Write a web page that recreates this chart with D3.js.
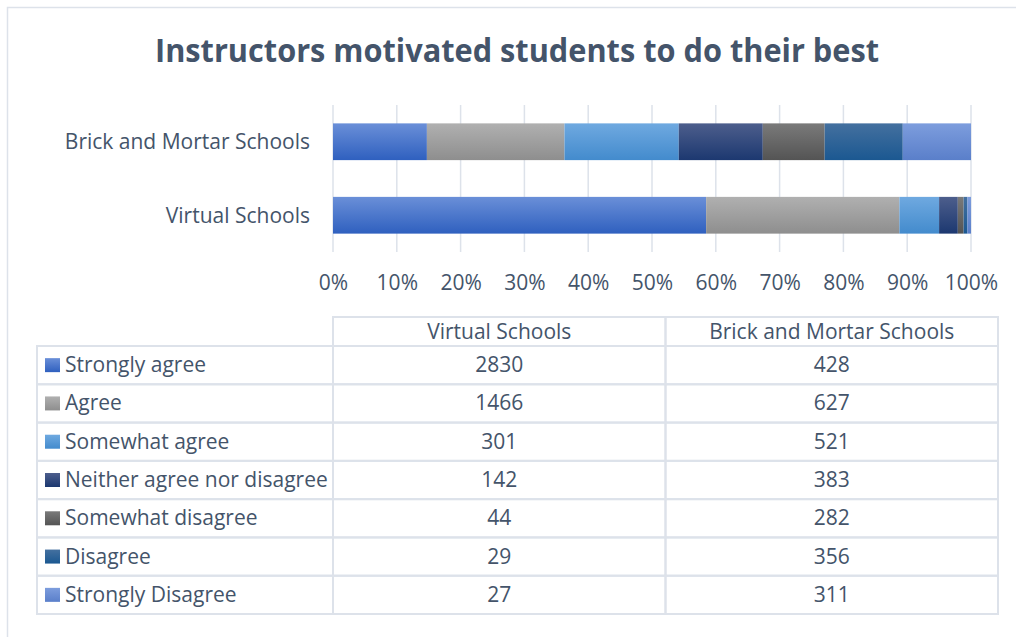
<!DOCTYPE html>
<html>
<head>
<meta charset="utf-8">
<script src="https://cdn.jsdelivr.net/npm/d3@7"></script>
<style>
  body { margin: 0; background: #ffffff; }
  svg { display: block; }
</style>
</head>
<body>
<div id="chart"></div>
<script>
// data
var categories = ["Brick and Mortar Schools", "Virtual Schools"];
var columns = ["Virtual Schools", "Brick and Mortar Schools"];
var responses = ["Strongly agree", "Agree", "Somewhat agree", "Neither agree nor disagree",
                 "Somewhat disagree", "Disagree", "Strongly Disagree"];
var virtualCounts = [2830, 1466, 301, 142, 44, 29, 27];
var brickCounts = [428, 627, 521, 383, 282, 356, 311];
var tickValues = [0, 0.1, 0.2, 0.3, 0.4, 0.5, 0.6, 0.7, 0.8, 0.9, 1];

// gradient stops per series (top, bottom)
var seriesColors = [
    ["#6a8fd8", "#2f60bf"],
    ["#b0b0b0", "#8e8e8e"],
    ["#6fa9e0", "#438bcd"],
    ["#4d5e8c", "#1c3870"],
    ["#7a7a7a", "#545454"],
    ["#44709f", "#1b5891"],
    ["#7d9ddd", "#5a7fca"]
];

var textColor = "#44546a";
var lineColor = "#dde2ea";
var font = "'Open Sans', 'Noto Sans', sans-serif";

var W = 1016, H = 637;
var svg = d3.select("#chart").append("svg").attr("width", W).attr("height", H);

var defs = svg.append("defs");
seriesColors.forEach(function (c, i) {
    var g = defs.append("linearGradient").attr("id", "grad" + i)
        .attr("x1", 0).attr("y1", 0).attr("x2", 0).attr("y2", 1);
    g.append("stop").attr("offset", "0%").attr("stop-color", c[0]);
    g.append("stop").attr("offset", "100%").attr("stop-color", c[1]);
});

// chart frame (only top and left edges show in the crop)
svg.append("path")
    .attr("d", "M7.5," + H + "V7.5H" + W)
    .attr("fill", "none").attr("stroke", lineColor).attr("stroke-width", 1.5);

// title - squeezed a bit, bold Open Sans runs wider than the original
svg.append("text")
    .attr("x", 517).attr("y", 62)
    .attr("text-anchor", "middle")
    .attr("font-family", font).attr("font-weight", "bold")
    .attr("font-size", 33)
    .attr("fill", textColor)
    .attr("textLength", 724).attr("lengthAdjust", "spacingAndGlyphs")
    .text("Instructors motivated students to do their best");

// --- bar area ---
var x = d3.scaleLinear().domain([0, 1]).range([333, 971]);
var y = d3.scaleBand().domain(categories).range([105, 252]).paddingInner(0.5).paddingOuter(0.25);

var countsByCat = {
    "Virtual Schools": virtualCounts,
    "Brick and Mortar Schools": brickCounts
};
var rows = categories.map(function (c) {
    var obj = { cat: c };
    var total = d3.sum(countsByCat[c]);
    responses.forEach(function (r, i) { obj[r] = countsByCat[c][i] / total; });
    return obj;
});
var stacked = d3.stack().keys(responses)(rows);

// gridlines
svg.append("g").selectAll("line").data(tickValues).enter().append("line")
    .attr("x1", d => x(d)).attr("x2", d => x(d))
    .attr("y1", 105).attr("y2", 252)
    .attr("stroke", lineColor).attr("stroke-width", 1.5);

svg.append("g").selectAll("g").data(stacked).enter().append("g")
    .attr("fill", (d, i) => "url(#grad" + i + ")")
    .selectAll("rect").data(d => d).enter().append("rect")
    .attr("x", d => x(d[0]))
    .attr("width", d => x(d[1]) - x(d[0]))
    .attr("y", d => y(d.data.cat))
    .attr("height", y.bandwidth());

var labelSize = 21;

// x axis labels
var xAxis = svg.append("g")
    .attr("transform", "translate(0,290)")
    .call(d3.axisBottom(x).tickValues(tickValues).tickFormat(d3.format(".0%")).tickSize(0).tickPadding(0));
xAxis.select(".domain").remove();
xAxis.selectAll("text")
    .attr("font-family", font).attr("font-size", labelSize)
    .attr("fill", textColor).attr("dy", 0).attr("y", 0);

// category labels
var yAxis = svg.append("g")
    .attr("transform", "translate(310,0)")
    .call(d3.axisLeft(y).tickSize(0).tickPadding(0));
yAxis.select(".domain").remove();
yAxis.selectAll("text")
    .attr("font-family", font).attr("font-size", labelSize)
    .attr("fill", textColor).attr("x", 0).attr("dy", 7.5);

// --- data table ---
var tableLeft = 37, tableRight = 998, headerTop = 317;
var colX = d3.scaleBand().domain(columns).range([333, tableRight]);
var rowY = d3.scaleBand().domain(responses).range([346, 614]);

var table = svg.append("g").attr("fill", "none").attr("stroke", lineColor).attr("stroke-width", 2);
// header cells (only the value columns)
columns.forEach(function (c) {
    table.append("rect")
        .attr("x", colX(c)).attr("y", headerTop)
        .attr("width", colX.bandwidth()).attr("height", rowY(responses[0]) - headerTop);
});
// body rows
responses.forEach(function (r) {
    table.append("rect")
        .attr("x", tableLeft).attr("y", rowY(r))
        .attr("width", 333 - tableLeft).attr("height", rowY.bandwidth());
    columns.forEach(function (c) {
        table.append("rect")
            .attr("x", colX(c)).attr("y", rowY(r))
            .attr("width", colX.bandwidth()).attr("height", rowY.bandwidth());
    });
});

var texts = svg.append("g").attr("font-family", font).attr("font-size", labelSize).attr("fill", textColor);
columns.forEach(function (c) {
    texts.append("text")
        .attr("x", colX(c) + colX.bandwidth() / 2)
        .attr("y", 339)
        .attr("text-anchor", "middle")
        .text(c);
});
responses.forEach(function (r, i) {
    var cy = rowY(r) + rowY.bandwidth() / 2;
    svg.append("rect")
        .attr("x", 45).attr("y", cy - 7)
        .attr("width", 15).attr("height", 14)
        .attr("fill", "url(#grad" + i + ")");
    texts.append("text")
        .attr("x", 65).attr("y", cy + 7)
        .text(r);
    columns.forEach(function (c) {
        texts.append("text")
            .attr("x", colX(c) + colX.bandwidth() / 2)
            .attr("y", cy + 7).attr("text-anchor", "middle")
            .text(countsByCat[c][i]);
    });
});
</script>
</body>
</html>
